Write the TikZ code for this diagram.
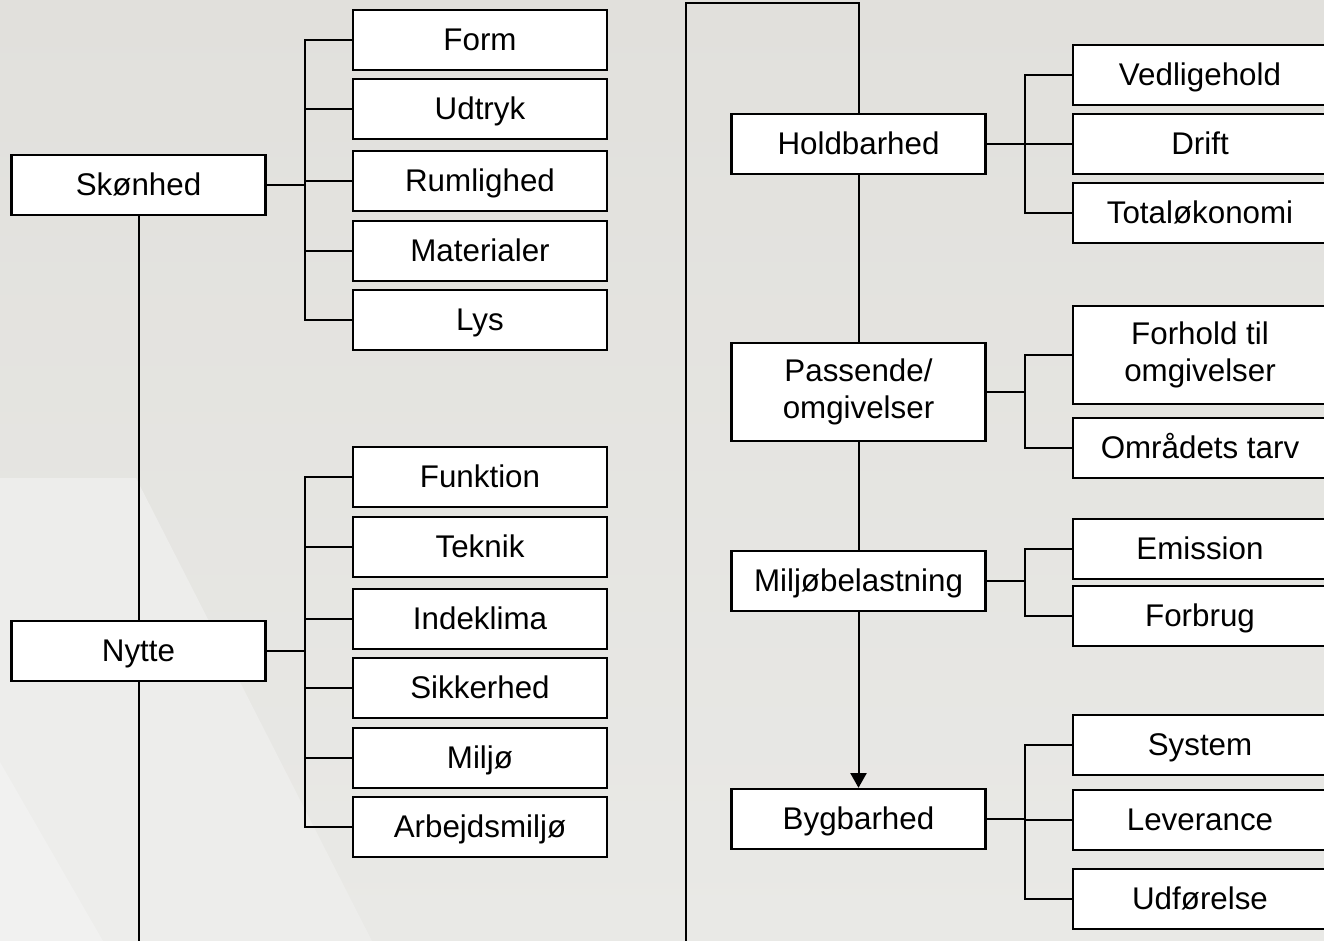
\documentclass[tikz,border=0pt]{standalone}
\usepackage{fontspec}
\setmainfont{Liberation Sans}
\usetikzlibrary{arrows.meta}
\definecolor{bgtop}{RGB}{225,224,220}
\definecolor{bgbot}{RGB}{233,233,230}
\definecolor{bglight}{RGB}{237,237,235}
\definecolor{bglighter}{RGB}{241,241,240}
\begin{document}
\begin{tikzpicture}[x=0.75pt,y=-0.75pt,
  box/.style={draw=black, line width=1.8pt, fill=white, minimum width=190.5pt,
    minimum height=45pt, inner sep=0pt, align=center,
    text height=16.4pt, text depth=0pt,
    font=\fontsize{23.5}{28}\selectfont},
  tallbox/.style={box, minimum height=73.5pt, text height={}, text depth={}},
  conn/.style={line width=1.5pt, line cap=rect},
  flow/.style={conn, -{Triangle[width=12pt,length=11pt]}}]
% page and background
\clip (0,0) rectangle (1324,941);
\fill[top color=bgtop, bottom color=bgbot] (0,0) rectangle (1324,941);
\fill[bglight] (0,478) -- (136,478) -- (372,941) -- (0,941) -- cycle;
\fill[bglighter] (0,762) -- (103,941) -- (0,941) -- cycle;

% left column: main criteria
\node[box] (sk) at (138.5,185) {Skønhed};
\node[box] (ny) at (138.5,651) {Nytte};

% sub criteria of Skønhed
\node[box] (form) at (480,40)  {Form};
\node[box] (udt)  at (480,109) {Udtryk};
\node[box] (rum)  at (480,181) {Rumlighed};
\node[box] (mat)  at (480,251) {Materialer};
\node[box] (lys)  at (480,320) {Lys};

% sub criteria of Nytte
\node[box] (fun) at (480,477) {Funktion};
\node[box] (tek) at (480,547) {Teknik};
\node[box] (ind) at (480,619) {Indeklima};
\node[box] (sik) at (480,688) {Sikkerhed};
\node[box] (mil) at (480,758) {Miljø};
\node[box] (arb) at (480,827) {Arbejdsmiljø};

% right column: main criteria
\node[box] (hold) at (858.5,144) {Holdbarhed};
\node[tallbox] (pas) at (858.5,392) {Passende/\\omgivelser};
\node[box] (mb) at (858.5,581) {Miljøbelastning};
\node[box] (byg) at (858.5,819) {Bygbarhed};

% sub criteria on the right
\node[box] (ved) at (1200,75)  {Vedligehold};
\node[box] (dri) at (1200,144) {Drift};
\node[box] (tot) at (1200,213) {Totaløkonomi};
\node[tallbox] (forh) at (1200,355) {Forhold til\\omgivelser};
\node[box] (omr) at (1200,448) {Områdets tarv};
\node[box] (emi) at (1200,549) {Emission};
\node[box] (fbr) at (1200,616) {Forbrug};
\node[box] (sys) at (1200,745) {System};
\node[box] (lev) at (1200,820) {Leverance};
\node[box] (udf) at (1200,899) {Udførelse};

% bracket columns and page-edge ends of the running line
\coordinate (bl) at (305,0);
\coordinate (br) at (1025,0);
\coordinate (lowL) at (139,941);
\coordinate (lowR) at (686,941);
\coordinate (topR) at (686,3);

% running line through the main criteria
\draw[conn] (sk.south) -- (ny.north);
\draw[conn] (ny.south) -- (ny.south |- lowL);
\draw[conn, line cap=butt] (lowR) -- (topR) -- (topR -| hold.north) -- (hold.north);
\draw[conn] (hold.south) -- (pas.north);
\draw[conn] (pas.south) -- (mb.north);
\draw[flow, line cap=butt] (mb.south) -- (byg.north);

% brackets
\draw[conn] (sk.east) -- (bl |- sk.east);
\draw[conn] (bl |- form.west) -- (bl |- lys.west);
\foreach \c in {form,udt,rum,mat,lys}
  \draw[conn] (bl |- \c.west) -- (\c.west);

\draw[conn] (ny.east) -- (bl |- ny.east);
\draw[conn] (bl |- fun.west) -- (bl |- arb.west);
\foreach \c in {fun,tek,ind,sik,mil,arb}
  \draw[conn] (bl |- \c.west) -- (\c.west);

\draw[conn] (hold.east) -- (br |- hold.east);
\draw[conn] (br |- ved.west) -- (br |- tot.west);
\foreach \c in {ved,dri,tot}
  \draw[conn] (br |- \c.west) -- (\c.west);

\draw[conn] (pas.east) -- (br |- pas.east);
\draw[conn] (br |- forh.west) -- (br |- omr.west);
\foreach \c in {forh,omr}
  \draw[conn] (br |- \c.west) -- (\c.west);

\draw[conn] (mb.east) -- (br |- mb.east);
\draw[conn] (br |- emi.west) -- (br |- fbr.west);
\foreach \c in {emi,fbr}
  \draw[conn] (br |- \c.west) -- (\c.west);

\draw[conn] (byg.east) -- (br |- byg.east);
\draw[conn] (br |- sys.west) -- (br |- udf.west);
\foreach \c in {sys,lev,udf}
  \draw[conn] (br |- \c.west) -- (\c.west);
\end{tikzpicture}
\end{document}
